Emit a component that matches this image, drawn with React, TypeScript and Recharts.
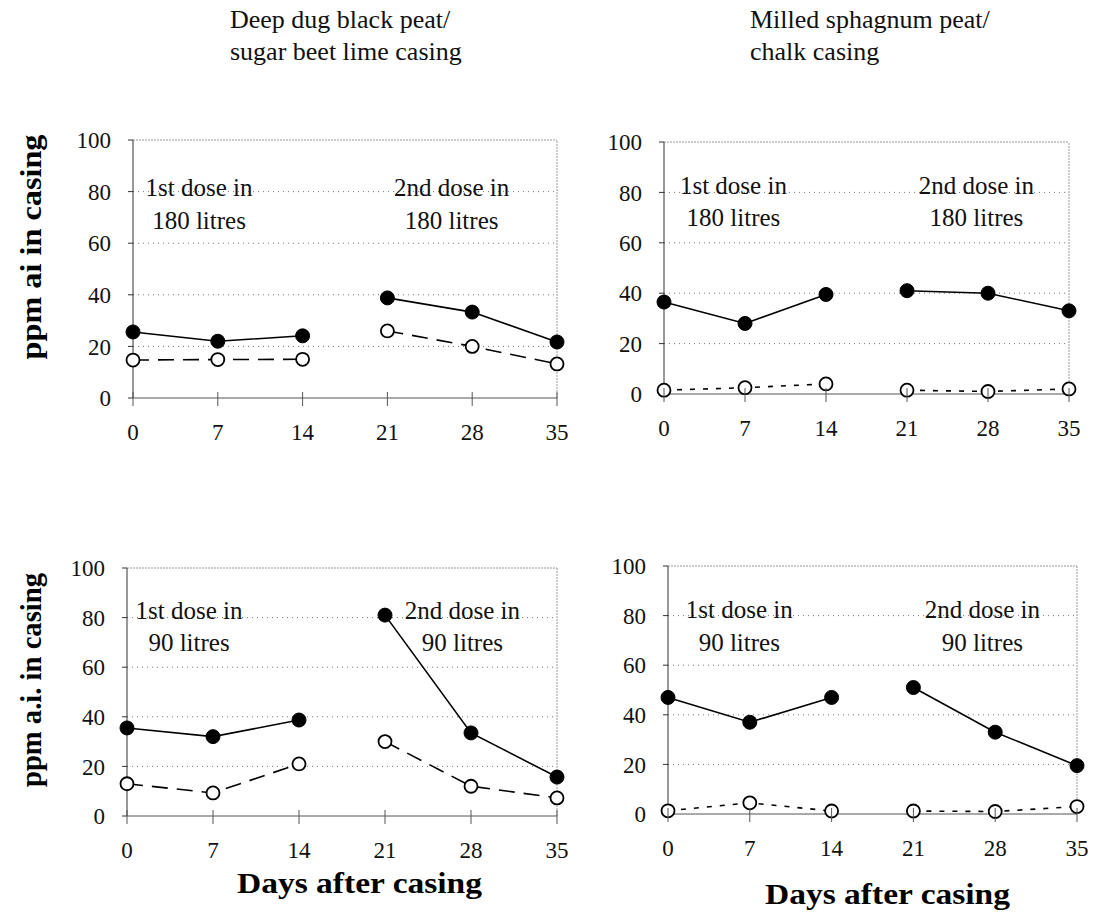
import React from 'react';
import { LineChart, Line, XAxis, YAxis, CartesianGrid, ReferenceLine, ReferenceDot } from 'recharts';

const days = [0, 7, 14, 21, 28, 35];
const yTicks = [0, 20, 40, 60, 80, 100];

const tlFilled = [25.6, 22, 24.1, 38.8, 33.3, 21.7];
const tlOpen = [14.7, 14.9, 15, 26, 20, 13.2];
const trFilled = [36.5, 28, 39.5, 41, 40, 33];
const trOpen = [1.5, 2.5, 4, 1.5, 1, 2];
const blFilled = [35.5, 32, 38.7, 81, 33.5, 15.7];
const blOpen = [13, 9.3, 21, 30, 12, 7.3];
const brFilled = [47, 37, 47, 51, 33, 19.5];
const brOpen = [1.3, 4.5, 1.2, 1.2, 1, 3];

const titleLeft = ['Deep dug black peat/', 'sugar beet lime casing'];
const titleRight = ['Milled sphagnum peat/', 'chalk casing'];
const yTitleTop = 'ppm ai in casing';
const yTitleBottom = 'ppm a.i. in casing';
const xTitle = 'Days after casing';
const notes180 = [['1st dose in', '180 litres'], ['2nd dose in', '180 litres']];
const notes90 = [['1st dose in', '90 litres'], ['2nd dose in', '90 litres']];

const FONT = 'Liberation Serif, Tinos, Times New Roman, DejaVu Serif, serif';

const XTick = (props: any) => {
  const { x, y, payload } = props;
  const axisY = y - 26;
  return (
    <g>
      <line x1={x} x2={x} y1={axisY - 6} y2={axisY + 8} stroke="#555" strokeWidth={1} />
      <text x={x} y={y} dy="0.71em" textAnchor="middle" style={{ fontSize: 23, fontFamily: FONT }} fill="#111">
        {payload.value}
      </text>
    </g>
  );
};

type PanelProps = {
  L: number; R: number; T: number; B: number;
  filled: number[]; open: number[];
  dash: string;
  notes: string[][];
  noteX: number[];
  noteY: number[];
};

const Panel = ({ L, R, T, B, filled, open, dash, notes, noteX, noteY }: PanelProps) => {
  const yw = 80;
  const mt = 20;
  const mr = 20;
  const xh = 60;
  const width = R - L + yw + mr;
  const height = B - T + mt + xh;
  const rows = days.map((d, i) => ({ day: d, f: filled[i], o: open[i] }));
  const first = rows.slice(0, 3);
  const second = rows.slice(3, 6);
  const filledDot = { r: 7, fill: '#000', stroke: '#000', strokeWidth: 1, strokeDasharray: 'none' };
  const openDot = { r: 6.5, fill: '#fff', stroke: '#000', strokeWidth: 1.8, strokeDasharray: 'none' };
  const noteLabel = (v: string) => ({
    value: v,
    position: 'center' as const,
    style: { fontSize: 25, fontFamily: FONT },
    fill: '#111',
  });
  return (
    <div style={{ position: 'absolute', left: L - yw, top: T - mt }}>
      <LineChart width={width} height={height} margin={{ top: mt, right: mr, left: 0, bottom: 0 }} style={{ fontFamily: FONT }}>
        <CartesianGrid vertical={false} horizontal stroke="#777" strokeDasharray="1 4" horizontalValues={[20, 40, 60, 80]} />
        <XAxis
          type="number"
          dataKey="day"
          domain={[0, 35]}
          ticks={days}
          allowDuplicatedCategory={false}
          height={xh}
          stroke="#555"
          tickLine={false}
          tickSize={0}
          tickMargin={26}
          tick={<XTick />}
          interval={0}
        />
        <YAxis
          type="number"
          domain={[0, 100]}
          ticks={yTicks}
          width={yw}
          stroke="#333"
          tickSize={5}
          tickMargin={17}
          tick={{ fontSize: 23, fill: '#111', style: { fontFamily: FONT } }}
          interval={0}
        />
        <ReferenceLine y={100} stroke="#999" strokeDasharray="2 1" />
        <ReferenceLine x={35} stroke="#999" strokeDasharray="2 1" />
        {notes.map((pair, k) =>
          pair.map((txt, j) => (
            <ReferenceDot
              key={`n${k}${j}`}
              x={noteX[k]}
              y={noteY[j]}
              r={0}
              stroke="none"
              fill="none"
              label={noteLabel(txt)}
            />
          ))
        )}
        <Line data={first} dataKey="o" stroke="#000" strokeWidth={1.6} strokeDasharray={dash} dot={openDot} isAnimationActive={false} />
        <Line data={second} dataKey="o" stroke="#000" strokeWidth={1.6} strokeDasharray={dash} dot={openDot} isAnimationActive={false} />
        <Line data={first} dataKey="f" stroke="#000" strokeWidth={1.6} dot={filledDot} isAnimationActive={false} />
        <Line data={second} dataKey="f" stroke="#000" strokeWidth={1.6} dot={filledDot} isAnimationActive={false} />
      </LineChart>
    </div>
  );
};

export default function App() {
  return (
    <div style={{ position: 'absolute', left: 0, top: 0, width: 1095, height: 920, background: '#fff', fontFamily: FONT }}>
      <svg width={1095} height={920} style={{ position: 'absolute', left: 0, top: 0, fontFamily: FONT }}>
        <g style={{ fontSize: 26, fontFamily: FONT }} fill="#111">
          <text x={230} y={28}>{titleLeft[0]}</text>
          <text x={230} y={60}>{titleLeft[1]}</text>
          <text x={750} y={28}>{titleRight[0]}</text>
          <text x={750} y={60}>{titleRight[1]}</text>
        </g>
        <g style={{ fontSize: 30, fontWeight: 'bold', fontFamily: FONT }} fill="#000">
          <text x={30} y={247} transform="rotate(-90 30 247)" textAnchor="middle" dominantBaseline="central" textLength={225} lengthAdjust="spacingAndGlyphs">{yTitleTop}</text>
          <text x={30} y={680} transform="rotate(-90 30 680)" textAnchor="middle" dominantBaseline="central" textLength={214} lengthAdjust="spacingAndGlyphs">{yTitleBottom}</text>
          <text x={237} y={893} textLength={245} lengthAdjust="spacingAndGlyphs">{xTitle}</text>
          <text x={765} y={904} textLength={245} lengthAdjust="spacingAndGlyphs">{xTitle}</text>
        </g>
      </svg>
      <Panel L={133} R={557} T={140} B={398} filled={tlFilled} open={tlOpen} dash="16 9" notes={notes180} noteX={[5.45, 26.3]} noteY={[81.8, 69]} />
      <Panel L={664} R={1069} T={142} B={394} filled={trFilled} open={trOpen} dash="5 8" notes={notes180} noteX={[6.0, 27.0]} noteY={[83, 70]} />
      <Panel L={127} R={557} T={568} B={816} filled={blFilled} open={blOpen} dash="16 9" notes={notes90} noteX={[5.05, 27.3]} noteY={[83, 70]} />
      <Panel L={668} R={1077} T={566} B={814} filled={brFilled} open={brOpen} dash="5 8" notes={notes90} noteX={[6.1, 26.9]} noteY={[82.7, 69.4]} />
    </div>
  );
}
